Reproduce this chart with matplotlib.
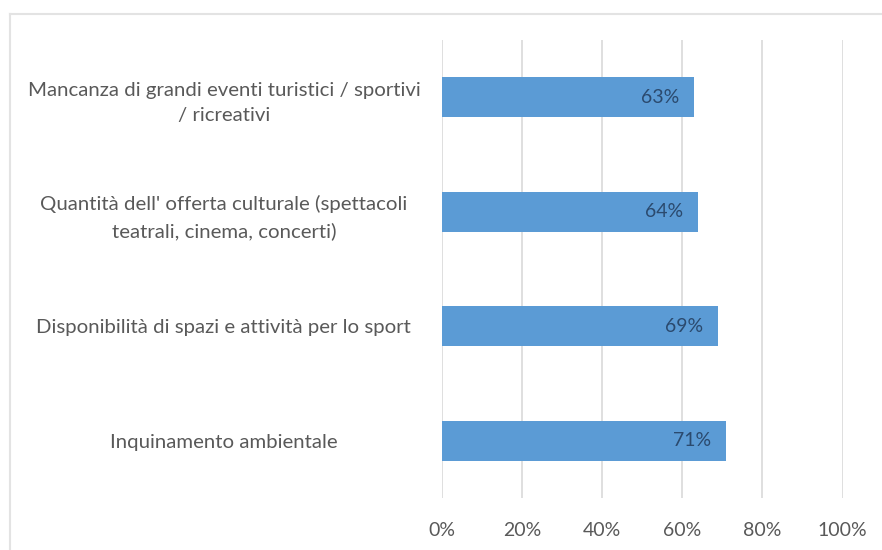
import matplotlib.pyplot as plt
from matplotlib.lines import Line2D

categories = [
    "Inquinamento ambientale",
    "Disponibilità di spazi e attività per lo sport",
    "Quantità dell' offerta culturale (spettacoli\nteatrali, cinema, concerti)",
    "Mancanza di grandi eventi turistici / sportivi\n/ ricreativi",
]
values = [71, 69, 64, 63]
xticks = [0, 20, 40, 60, 80, 100]

plt.rcParams['font.family'] = ['Lato', 'DejaVu Sans']

fig = plt.figure(figsize=(8.82, 5.5), dpi=100)
fig.patch.set_facecolor('white')
ax = fig.add_axes([0.5008, 0.0945, 0.4546, 0.8325])

y = range(len(categories))
bars = ax.barh(y, values, height=0.35, color='#5B9BD5', zorder=3)

for rect, v in zip(bars, values):
    ax.text(rect.get_width() - 3.7, rect.get_y() + rect.get_height() / 2,
            f"{v}%", ha='right', va='center', fontsize=14, color='#2b4a6e', zorder=4)

ax.set_xlim(0, 100)
ax.set_ylim(-0.5, len(categories) - 0.5)
ax.set_xticks(xticks)
ax.set_xticklabels([f"{t}%" for t in xticks], fontsize=14, color='#595959')
ax.set_yticks(list(y))
ax.set_yticklabels(categories, fontsize=14.7, color='#595959', ha='center',
                   multialignment='center', linespacing=1.6)
for lbl in ax.get_yticklabels():
    lbl.set_x(-0.531)

ax.tick_params(axis='both', length=0)
ax.tick_params(axis='x', pad=17)
ax.grid(axis='x', color='#D9D9D9', linewidth=1.2, zorder=0)
for s in ax.spines.values():
    s.set_visible(False)

# outer chart border (only top and left visible in the crop)
fig.add_artist(Line2D([10 / 882, 10 / 882], [0, 1 - 14 / 550], transform=fig.transFigure,
                      color='#E3E3E3', linewidth=1.5))
fig.add_artist(Line2D([10 / 882, 1], [1 - 14 / 550, 1 - 14 / 550], transform=fig.transFigure,
                      color='#E3E3E3', linewidth=1.5))

fig.savefig('out.png', dpi=100, facecolor='white')
